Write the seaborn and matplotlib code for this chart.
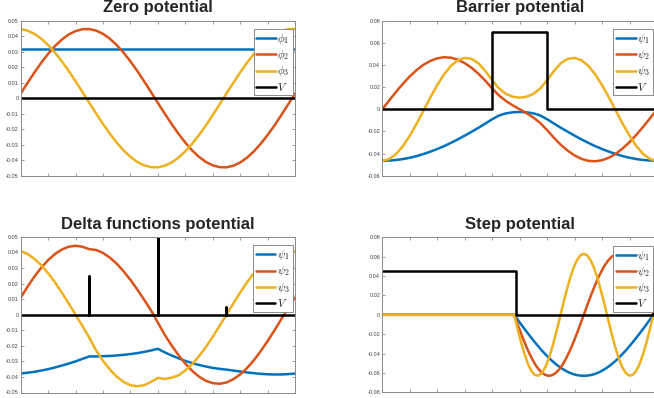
import numpy as np
import pandas as pd
import matplotlib
matplotlib.use("Agg")
import matplotlib.pyplot as plt
from matplotlib.ticker import FuncFormatter
import seaborn as sns

# ---------------- data ----------------
titles = ["Zero potential", "Barrier potential", "Delta functions potential", "Step potential"]
labels_phi = [r"$\phi_1$", r"$\phi_2$", r"$\phi_3$", r"$V$"]
labels_psi = [r"$\psi_1$", r"$\psi_2$", r"$\psi_3$", r"$V$"]

grid41 = np.linspace(0, 1, 41)

# Zero potential
zero_x1 = [0.0, 1.0]
zero_phi1 = [0.0316, 0.0316]
zero_phi2 = [.0030, .0099, .0166, .0229, .0286, .0337, .0378, .0411, .0433, .0445, .0446,
             .0436, .0415, .0384, .0343, .0294, .0238, .0176, .0109, .0040, -.0030,
             -.0099, -.0166, -.0229, -.0286, -.0337, -.0378, -.0411, -.0433, -.0445, -.0446,
             -.0436, -.0415, -.0384, -.0343, -.0294, -.0238, -.0176, -.0109, -.0040, .0030]
zero_phi3 = [.0446, .0436, .0415, .0384, .0343, .0294, .0238, .0176, .0109, .0040, -.0030,
             -.0099, -.0166, -.0229, -.0286, -.0337, -.0378, -.0411, -.0433, -.0445, -.0446,
             -.0436, -.0415, -.0384, -.0343, -.0294, -.0238, -.0176, -.0109, -.0040, .0030,
             .0099, .0166, .0229, .0286, .0337, .0378, .0411, .0433, .0445, .0446]
zero_vx = [0.0, 1.0]
zero_v = [0.0, 0.0]

# Barrier potential
bar_psi1 = [-.0465, -.0463, -.0458, -.0450, -.0438, -.0423, -.0404, -.0383, -.0359, -.0333, -.0303,
            -.0272, -.0238, -.0203, -.0167, -.0129, -.0090, -.0056, -.0037, -.0027, -.0024,
            -.0027, -.0037, -.0056, -.0090, -.0129, -.0167, -.0203, -.0238, -.0272, -.0303,
            -.0333, -.0359, -.0383, -.0404, -.0423, -.0438, -.0450, -.0458, -.0463, -.0465]
bar_psi2 = [0, .0080, .0157, .0230, .0297, .0354, .0402, .0437, .0460, .0470, .0466,
            .0448, .0417, .0374, .0321, .0258, .0188, .0124, .0075, .0035, 0,
            -.0035, -.0075, -.0124, -.0188, -.0258, -.0321, -.0374, -.0417, -.0448, -.0466,
            -.0470, -.0460, -.0437, -.0402, -.0354, -.0297, -.0230, -.0157, -.0080, 0]
bar_psi3 = [-.0465, -.0450, -.0405, -.0333, -.0239, -.0130, -.0012, .0107, .0218, .0316, .0393,
            .0443, .0464, .0455, .0416, .0346, .0262, .0188, .0139, .0113, .0105,
            .0113, .0139, .0188, .0262, .0346, .0416, .0455, .0464, .0443, .0393,
            .0316, .0218, .0107, -.0012, -.0130, -.0239, -.0333, -.0405, -.0450, -.0465]
bar_vx = [0.0, 0.4, 0.4, 0.6, 0.6, 1.0]
bar_v = [0.0, 0.0, 0.07, 0.07, 0.0, 0.0]

# Delta functions potential
del_psi1 = [-.0378, -.0373, -.0367, -.0359, -.0350, -.0339, -.0327, -.0314, -.0300, -.0284, -.0268,
            -.0268, -.0267, -.0265, -.0262, -.0258, -.0253, -.0247, -.0239, -.0230, -.0219,
            -.0242, -.0262, -.0280, -.0297, -.0311, -.0323, -.0333, -.0342, -.0348, -.0353,
            -.0359, -.0365, -.0371, -.0376, -.0380, -.0383, -.0384, -.0384, -.0382, -.0378]
del_psi2 = [.0110, .0180, .0245, .0302, .0351, .0390, .0419, .0437, .0443, .0437, .0421,
            .0416, .0397, .0367, .0328, .0279, .0224, .0162, .0096, .0028, -.0050,
            -.0129, -.0197, -.0259, -.0314, -.0361, -.0398, -.0425, -.0440, -.0444, -.0436,
            -.0415, -.0384, -.0343, -.0293, -.0234, -.0170, -.0101, -.0029, .0044, .0110]
del_psi3 = [.0409, .0390, .0359, .0318, .0267, .0208, .0142, .0072, .0000, -.0072, -.0147,
            -.0230, -.0296, -.0352, -.0398, -.0432, -.0453, -.0460, -.0453, -.0432, -.0406,
            -.0413, -.0405, -.0390, -.0359, -.0318, -.0267, -.0208, -.0142, -.0072, .0000,
            .0072, .0142, .0208, .0267, .0318, .0359, .0390, .0409, .0415, .0409]
del_vx = [0.0, 0.25, 0.25, 0.25, 0.5, 0.5, 0.5, 0.75, 0.75, 0.75, 1.0]
del_v = [0.0, 0.0, 0.025, 0.0, 0.0, 0.05, 0.0, 0.0, 0.005, 0.0, 0.0]

# Step potential
step_x = np.concatenate([[0.0, 0.47], np.linspace(0.48, 0.987, 41), [1.0]])
step_psi1 = [0, 0,
             0, -.0049, -.0099, -.0147, -.0195, -.0241, -.0286, -.0329, -.0370, -.0409, -.0445,
             -.0479, -.0510, -.0537, -.0561, -.0582, -.0599, -.0613, -.0622, -.0628, -.0630,
             -.0628, -.0622, -.0613, -.0599, -.0582, -.0561, -.0537, -.0510, -.0479, -.0445,
             -.0409, -.0370, -.0329, -.0286, -.0241, -.0195, -.0147, -.0099, -.0049, 0,
             0]
step_psi2 = [0, 0,
             0, -.0099, -.0195, -.0286, -.0370, -.0445, -.0510, -.0561, -.0599, -.0622, -.0630,
             -.0622, -.0599, -.0561, -.0510, -.0445, -.0370, -.0286, -.0195, -.0099, 0,
             .0099, .0195, .0286, .0370, .0445, .0510, .0561, .0599, .0622, .0630,
             .0622, .0599, .0561, .0510, .0445, .0370, .0286, .0195, .0099, 0,
             0]
step_psi3 = [0, 0,
             0, -.0147, -.0286, -.0409, -.0510, -.0582, -.0622, -.0628, -.0599, -.0537, -.0445,
             -.0329, -.0195, -.0049, .0099, .0241, .0370, .0479, .0561, .0613, .0630,
             .0613, .0561, .0479, .0370, .0241, .0099, -.0049, -.0195, -.0329, -.0445,
             -.0537, -.0599, -.0628, -.0622, -.0582, -.0510, -.0409, -.0286, -.0147, 0,
             0]
step_vx = [0.0, 0.486, 0.486, 0.987, 0.987, 1.0]
step_v = [0.045, 0.045, 0.0, 0.0, 0.045, 0.045]

# y-axis settings per panel (limits and tick step)
ylims = [(-0.05, 0.05), (-0.06, 0.08), (-0.05, 0.05), (-0.08, 0.08)]
ysteps = [0.01, 0.02, 0.01, 0.02]

# ---------------- style ----------------
sns.set_style("ticks")
plt.rcParams["font.family"] = ["Liberation Sans", "DejaVu Sans"]
plt.rcParams["mathtext.fontset"] = "cm"
plt.rcParams["axes.unicode_minus"] = False

colors = ["#0072BD", "#D95319", "#EDB120", "#000000"]
LW = 1.8
W, H = 654.0, 398.0

fig = plt.figure(figsize=(W / 100, H / 100), dpi=100)

# axes boxes in pixels: left, top, right, bottom
boxes = [(20.7, 20.7, 295.0, 175.7),
         (382.3, 20.7, 657.0, 175.7),
         (20.7, 236.9, 295.0, 392.5),
         (382.3, 237.3, 657.0, 392.3)]

panels = [
    [(zero_x1, zero_phi1), (grid41, zero_phi2), (grid41, zero_phi3), (zero_vx, zero_v)],
    [(grid41, bar_psi1), (grid41, bar_psi2), (grid41, bar_psi3), (bar_vx, bar_v)],
    [(grid41, del_psi1), (grid41, del_psi2), (grid41, del_psi3), (del_vx, del_v)],
    [(step_x, step_psi1), (step_x, step_psi2), (step_x, step_psi3), (step_vx, step_v)],
]

fmt = FuncFormatter(lambda v, p: f"{round(v, 4):g}")

for i, (box, series) in enumerate(zip(boxes, panels)):
    l, t, r, b = box
    ax = fig.add_axes([l / W, 1 - b / H, (r - l) / W, (b - t) / H])
    labs = labels_phi if i == 0 else labels_psi
    for (xs, ys), c, lab in zip(series, colors, labs):
        df = pd.DataFrame({"x": np.asarray(xs, float), "y": np.asarray(ys, float)})
        sns.lineplot(data=df, x="x", y="y", ax=ax, color=c, lw=LW,
                     estimator=None, sort=False, label=lab)
    ax.set_xlim(0, 1)
    lo, hi = ylims[i]
    ax.set_ylim(lo, hi)
    ax.set_xticks(np.round(np.arange(0, 1.0001, 0.1), 2))
    ax.set_yticks(np.round(np.arange(lo, hi + 1e-9, ysteps[i]), 3))
    ax.yaxis.set_major_formatter(fmt)
    ax.set_xticklabels([])
    ax.set_xlabel("")
    ax.set_ylabel("")
    ax.tick_params(direction="in", length=2.5, width=0.5, top=True, right=True,
                   labelsize=4, pad=1.5, color="#777777", labelcolor="#444444")
    for sp in ax.spines.values():
        sp.set_visible(True)
        sp.set_color("#8a8a8a")
        sp.set_linewidth(0.7)
    ax.set_title(titles[i], fontsize=12, fontweight="bold", pad=6)
    rgap = 2.5 if i % 2 == 0 else 4.0
    leg = ax.legend(loc="upper right",
                    bbox_to_anchor=(1 - rgap / (r - l), 1 - 8.5 / (b - t)),
                    borderaxespad=0, fontsize=8, frameon=True, fancybox=False,
                    edgecolor="#8a8a8a", framealpha=1, handlelength=1.75,
                    handletextpad=0.15, borderpad=0.25, labelspacing=0.2)
    leg.get_frame().set_linewidth(0.7)
    for ln in leg.get_lines():
        ln.set_linewidth(LW)

fig.savefig("out.png", dpi=100)
